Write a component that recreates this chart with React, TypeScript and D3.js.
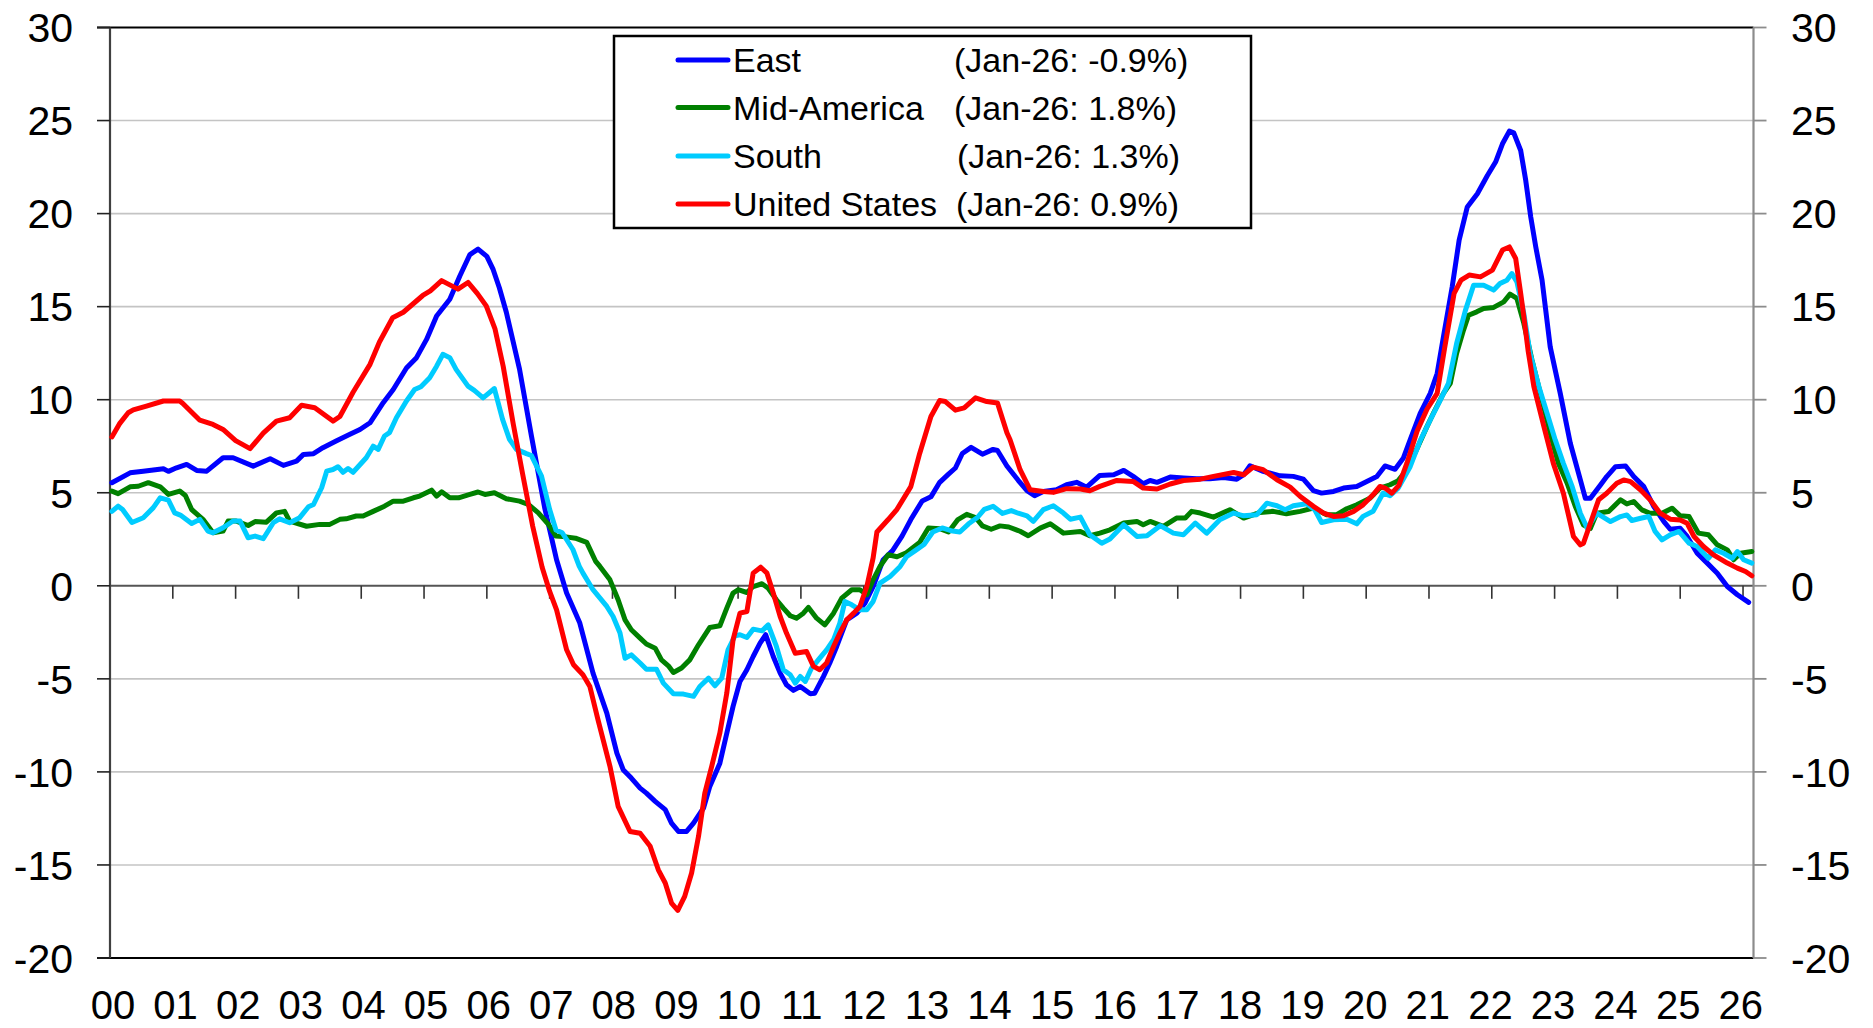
import React from 'react';
import * as d3 from 'd3';

// [years since Jan-2000, % y/y]
const east: [number, number][] = [
  [0.03,5.54],[0.32,6.07],[0.53,6.16],[0.85,6.29],[0.93,6.15],[1.06,6.34],[1.22,6.52],[1.38,6.2],[1.54,6.16],[1.8,6.88],[1.96,6.88],[2.28,6.43],[2.55,6.83],[2.76,6.47],[2.97,6.7],[3.08,7.06],[3.24,7.1],[3.39,7.42],[3.6,7.78],[3.82,8.14],[3.98,8.4],[4.14,8.76],[4.35,9.84],[4.51,10.55],[4.72,11.7],[4.88,12.26],[5.04,13.24],[5.2,14.5],[5.41,15.4],[5.57,16.65],[5.73,17.8],[5.86,18.09],[6.0,17.7],[6.1,17.0],[6.2,16.0],[6.31,14.7],[6.52,11.64],[6.71,8.05],[6.92,4.2],[7.11,1.4],[7.27,-0.39],[7.48,-2.0],[7.69,-4.69],[7.91,-6.84],[8.07,-8.99],[8.17,-9.88],[8.3,-10.33],[8.44,-10.87],[8.54,-11.14],[8.68,-11.58],[8.84,-12.03],[8.94,-12.75],[9.05,-13.2],[9.18,-13.2],[9.29,-12.75],[9.45,-11.94],[9.55,-10.78],[9.71,-9.53],[9.82,-7.92],[9.92,-6.48],[10.03,-5.14],[10.14,-4.51],[10.24,-3.8],[10.35,-3.08],[10.44,-2.63],[10.56,-3.8],[10.67,-4.69],[10.77,-5.32],[10.88,-5.62],[10.99,-5.41],[11.15,-5.8],[11.22,-5.77],[11.36,-4.87],[11.46,-4.15],[11.57,-3.26],[11.73,-1.83],[11.89,-1.47],[12.02,-0.93],[12.15,-0.04],[12.31,1.4],[12.46,1.89],[12.61,2.67],[12.75,3.56],[12.93,4.56],[13.07,4.78],[13.21,5.56],[13.35,6.0],[13.46,6.33],[13.57,7.11],[13.71,7.44],[13.89,7.07],[14.06,7.33],[14.13,7.27],[14.28,6.44],[14.46,5.67],[14.6,5.11],[14.72,4.84],[14.86,5.07],[15.07,5.16],[15.23,5.43],[15.39,5.56],[15.55,5.3],[15.76,5.93],[15.98,5.97],[16.14,6.2],[16.29,5.88],[16.45,5.48],[16.56,5.66],[16.67,5.56],[16.88,5.84],[17.09,5.79],[17.3,5.75],[17.51,5.75],[17.73,5.82],[17.94,5.73],[18.05,5.97],[18.15,6.45],[18.36,6.15],[18.63,5.91],[18.84,5.88],[19.0,5.73],[19.16,5.11],[19.29,4.98],[19.48,5.07],[19.64,5.25],[19.85,5.34],[20.01,5.61],[20.17,5.87],[20.3,6.44],[20.46,6.26],[20.59,6.85],[20.7,7.84],[20.86,9.27],[21.02,10.34],[21.13,11.41],[21.24,13.57],[21.37,16.07],[21.48,18.57],[21.61,20.36],[21.77,21.07],[21.93,22.05],[22.06,22.77],[22.17,23.75],[22.28,24.43],[22.35,24.34],[22.46,23.39],[22.54,21.79],[22.62,19.82],[22.7,18.21],[22.8,16.43],[22.93,12.84],[23.09,10.34],[23.25,7.66],[23.41,5.69],[23.49,4.7],[23.57,4.7],[23.73,5.42],[23.83,5.87],[23.97,6.4],[24.13,6.44],[24.26,5.87],[24.42,5.33],[24.58,4.26],[24.74,3.45],[24.84,3.04],[25.0,3.09],[25.11,2.65],[25.27,1.75],[25.43,1.22],[25.59,0.68],[25.75,-0.04],[25.91,-0.48],[26.09,-0.89],
];

const midAmerica: [number, number][] = [
  [0.03,5.09],[0.13,4.95],[0.32,5.32],[0.45,5.35],[0.61,5.54],[0.8,5.32],[0.93,4.91],[1.11,5.09],[1.2,4.85],[1.3,4.1],[1.48,3.57],[1.64,2.85],[1.8,2.94],[1.88,3.48],[2.01,3.48],[2.2,3.24],[2.31,3.45],[2.49,3.42],[2.65,3.92],[2.78,4.0],[2.86,3.48],[3.13,3.2],[3.34,3.3],[3.5,3.3],[3.66,3.57],[3.76,3.6],[3.92,3.75],[4.03,3.75],[4.19,4.0],[4.37,4.28],[4.51,4.55],[4.67,4.55],[4.83,4.73],[4.93,4.82],[5.12,5.14],[5.2,4.82],[5.28,5.05],[5.41,4.73],[5.55,4.73],[5.73,4.91],[5.86,5.04],[5.97,4.91],[6.12,5.0],[6.31,4.68],[6.52,4.55],[6.66,4.37],[6.82,3.92],[6.98,3.3],[7.1,2.67],[7.26,2.63],[7.41,2.56],[7.59,2.33],[7.73,1.33],[7.8,1.04],[7.96,0.32],[8.09,-0.75],[8.2,-1.83],[8.3,-2.36],[8.44,-2.81],[8.54,-3.13],[8.68,-3.35],[8.78,-3.98],[8.89,-4.3],[8.97,-4.66],[9.1,-4.42],[9.23,-3.98],[9.37,-3.17],[9.55,-2.24],[9.71,-2.15],[9.82,-1.2],[9.92,-0.39],[10.0,-0.21],[10.14,-0.36],[10.24,-0.04],[10.38,0.11],[10.48,-0.13],[10.61,-0.75],[10.72,-1.2],[10.83,-1.61],[10.93,-1.74],[11.04,-1.47],[11.12,-1.16],[11.25,-1.74],[11.38,-2.1],[11.52,-1.47],[11.65,-0.66],[11.81,-0.21],[11.94,-0.21],[12.05,-0.48],[12.15,0.32],[12.26,1.04],[12.39,1.67],[12.53,1.56],[12.68,1.78],[12.89,2.33],[13.03,3.11],[13.21,3.07],[13.35,2.89],[13.5,3.56],[13.64,3.84],[13.78,3.67],[13.89,3.22],[14.03,3.04],[14.17,3.22],[14.31,3.16],[14.49,2.93],[14.62,2.69],[14.81,3.1],[14.97,3.33],[15.18,2.83],[15.45,2.92],[15.6,2.69],[15.76,2.83],[15.92,3.01],[16.14,3.37],[16.35,3.46],[16.45,3.28],[16.56,3.46],[16.77,3.19],[16.98,3.64],[17.12,3.64],[17.22,4.0],[17.36,3.91],[17.57,3.69],[17.83,4.09],[18.05,3.64],[18.31,3.94],[18.52,4.0],[18.73,3.87],[18.95,4.0],[19.16,4.18],[19.37,3.82],[19.53,3.82],[19.69,4.14],[19.85,4.35],[20.06,4.7],[20.22,5.25],[20.38,5.43],[20.51,5.65],[20.64,6.2],[20.8,7.3],[20.96,8.5],[21.07,9.27],[21.23,10.34],[21.34,10.88],[21.44,12.49],[21.55,13.74],[21.63,14.54],[21.76,14.72],[21.87,14.9],[22.03,14.96],[22.19,15.26],[22.29,15.67],[22.4,15.44],[22.51,14.1],[22.64,12.13],[22.8,9.98],[22.93,8.19],[23.06,6.58],[23.2,5.51],[23.33,4.26],[23.46,3.27],[23.57,3.09],[23.67,3.9],[23.86,3.99],[24.05,4.62],[24.15,4.4],[24.26,4.53],[24.39,4.08],[24.52,3.9],[24.71,3.9],[24.87,4.17],[25.0,3.76],[25.14,3.72],[25.29,2.83],[25.45,2.74],[25.59,2.2],[25.75,1.93],[25.85,1.4],[25.96,1.75],[26.14,1.84],
];

const south: [number, number][] = [
  [0.03,4.0],[0.13,4.28],[0.2,4.1],[0.35,3.4],[0.53,3.66],[0.69,4.2],[0.8,4.73],[0.93,4.6],[1.03,3.92],[1.12,3.8],[1.3,3.35],[1.43,3.57],[1.56,2.94],[1.64,2.85],[1.8,3.12],[1.96,3.48],[2.07,3.48],[2.2,2.58],[2.31,2.67],[2.44,2.53],[2.6,3.39],[2.7,3.6],[2.86,3.39],[3.02,3.66],[3.16,4.25],[3.24,4.37],[3.37,5.27],[3.45,6.16],[3.55,6.25],[3.63,6.4],[3.71,6.1],[3.79,6.3],[3.87,6.1],[4.08,6.88],[4.19,7.5],[4.27,7.33],[4.37,8.05],[4.45,8.23],[4.56,9.03],[4.72,9.93],[4.85,10.55],[4.95,10.7],[5.09,11.18],[5.2,11.8],[5.3,12.44],[5.41,12.26],[5.51,11.63],[5.7,10.73],[5.8,10.5],[5.94,10.1],[6.12,10.6],[6.25,8.94],[6.36,7.87],[6.47,7.33],[6.63,7.1],[6.71,7.0],[6.87,5.9],[7.0,4.1],[7.1,3.0],[7.2,2.85],[7.37,1.95],[7.47,1.06],[7.53,0.68],[7.69,-0.21],[7.91,-1.11],[8.01,-1.65],[8.12,-2.54],[8.2,-3.89],[8.3,-3.71],[8.44,-4.15],[8.54,-4.48],[8.7,-4.48],[8.81,-5.23],[8.97,-5.8],[9.13,-5.82],[9.29,-5.94],[9.39,-5.41],[9.53,-4.96],[9.63,-5.37],[9.74,-4.96],[9.84,-3.44],[9.95,-2.69],[10.03,-2.63],[10.14,-2.78],[10.24,-2.33],[10.38,-2.42],[10.48,-2.1],[10.61,-3.26],[10.72,-4.51],[10.83,-4.78],[10.91,-5.23],[10.99,-4.87],[11.07,-5.14],[11.17,-4.42],[11.3,-3.89],[11.41,-3.44],[11.52,-2.9],[11.62,-2.0],[11.7,-0.84],[11.81,-1.02],[11.94,-1.29],[12.05,-1.29],[12.15,-0.84],[12.26,0.14],[12.42,0.5],[12.58,1.04],[12.68,1.56],[12.82,1.89],[12.96,2.22],[13.1,2.89],[13.25,3.11],[13.39,2.96],[13.53,2.89],[13.67,3.33],[13.81,3.67],[13.92,4.11],[14.06,4.27],[14.21,3.89],[14.35,4.04],[14.46,3.9],[14.6,3.76],[14.7,3.46],[14.86,4.09],[15.02,4.3],[15.18,3.91],[15.29,3.58],[15.45,3.69],[15.6,2.74],[15.79,2.29],[15.92,2.51],[16.14,3.28],[16.35,2.65],[16.51,2.69],[16.72,3.23],[16.93,2.83],[17.09,2.74],[17.28,3.37],[17.46,2.83],[17.67,3.55],[17.89,3.91],[18.05,3.76],[18.26,3.82],[18.42,4.44],[18.58,4.3],[18.71,4.09],[18.84,4.3],[19.05,4.41],[19.18,4.09],[19.29,3.4],[19.48,3.55],[19.69,3.58],[19.85,3.33],[19.95,3.73],[20.11,4.0],[20.27,4.98],[20.38,4.84],[20.51,5.25],[20.7,6.4],[20.86,7.8],[21.02,8.91],[21.18,9.98],[21.31,10.88],[21.44,13.02],[21.58,14.8],[21.71,16.15],[21.87,16.15],[22.03,15.89],[22.13,16.24],[22.24,16.42],[22.32,16.78],[22.4,16.33],[22.51,14.63],[22.61,12.49],[22.75,10.7],[22.88,9.27],[23.01,7.84],[23.14,6.58],[23.28,5.33],[23.41,3.9],[23.52,3.09],[23.67,3.9],[23.89,3.45],[24.05,3.72],[24.15,3.81],[24.23,3.51],[24.37,3.63],[24.5,3.72],[24.6,2.92],[24.71,2.47],[24.84,2.74],[24.98,2.92],[25.14,2.29],[25.27,2.11],[25.45,1.48],[25.56,1.93],[25.69,1.75],[25.83,1.48],[25.91,1.84],[26.01,1.4],[26.14,1.22],
];

const unitedStates: [number, number][] = [
  [0.03,8.0],[0.15,8.7],[0.29,9.3],[0.37,9.45],[0.58,9.66],[0.85,9.93],[1.11,9.93],[1.16,9.8],[1.43,8.9],[1.64,8.67],[1.8,8.4],[2.0,7.8],[2.23,7.37],[2.44,8.2],[2.65,8.85],[2.86,9.03],[3.05,9.7],[3.26,9.57],[3.55,8.85],[3.66,9.1],[3.87,10.4],[4.14,11.9],[4.29,13.1],[4.5,14.4],[4.67,14.7],[4.98,15.6],[5.1,15.85],[5.28,16.4],[5.54,15.94],[5.7,16.3],[5.85,15.7],[5.99,15.04],[6.13,13.8],[6.26,11.8],[6.42,8.7],[6.57,6.0],[6.73,3.2],[6.88,1.0],[7.0,-0.3],[7.11,-1.29],[7.27,-3.44],[7.38,-4.24],[7.53,-4.78],[7.64,-5.41],[7.77,-7.2],[7.96,-9.7],[8.09,-11.85],[8.28,-13.2],[8.44,-13.3],[8.6,-14.0],[8.73,-15.26],[8.84,-15.97],[8.94,-17.05],[9.04,-17.44],[9.15,-16.69],[9.26,-15.43],[9.37,-13.46],[9.47,-11.14],[9.58,-9.7],[9.71,-7.9],[9.82,-5.77],[9.92,-2.9],[10.03,-1.47],[10.14,-1.38],[10.24,0.68],[10.36,1.0],[10.46,0.68],[10.56,-0.39],[10.67,-1.65],[10.77,-2.54],[10.91,-3.62],[11.09,-3.53],[11.2,-4.33],[11.3,-4.51],[11.41,-4.15],[11.52,-3.26],[11.62,-2.54],[11.73,-1.83],[11.84,-1.47],[11.94,-1.11],[12.05,-0.04],[12.15,1.5],[12.21,2.89],[12.39,3.56],[12.53,4.11],[12.75,5.33],[12.89,7.1],[13.07,9.1],[13.21,9.96],[13.3,9.9],[13.46,9.44],[13.6,9.56],[13.78,10.1],[13.96,9.9],[14.13,9.82],[14.28,8.22],[14.33,7.85],[14.49,6.24],[14.65,5.16],[14.86,5.07],[15.02,5.02],[15.23,5.22],[15.45,5.2],[15.6,5.11],[15.76,5.34],[16.03,5.66],[16.29,5.61],[16.45,5.25],[16.67,5.2],[16.88,5.47],[17.09,5.66],[17.36,5.73],[17.57,5.88],[17.89,6.09],[18.05,5.97],[18.2,6.38],[18.36,6.24],[18.58,5.7],[18.79,5.3],[18.95,4.8],[19.16,4.27],[19.32,3.91],[19.48,3.73],[19.64,3.76],[19.8,4.0],[19.95,4.35],[20.11,4.89],[20.22,5.34],[20.3,5.25],[20.41,4.98],[20.52,5.4],[20.65,6.6],[20.81,8.3],[20.97,9.5],[21.13,10.34],[21.25,12.8],[21.4,15.71],[21.51,16.43],[21.64,16.7],[21.82,16.6],[22.01,16.96],[22.17,18.04],[22.28,18.21],[22.38,17.59],[22.46,15.71],[22.51,14.46],[22.58,12.6],[22.67,10.7],[22.83,8.55],[22.98,6.58],[23.14,4.97],[23.3,2.65],[23.41,2.2],[23.46,2.29],[23.57,3.36],[23.7,4.62],[23.83,4.97],[23.99,5.51],[24.1,5.69],[24.21,5.6],[24.37,5.15],[24.52,4.62],[24.68,3.9],[24.84,3.58],[25.0,3.54],[25.11,3.36],[25.22,2.65],[25.37,2.11],[25.53,1.66],[25.75,1.22],[25.91,0.95],[26.04,0.77],[26.14,0.54],
];

const seriesNames = ['East', 'Mid-America', 'South', 'United States'];
const seriesNotes = ['(Jan-26: -0.9%)', '(Jan-26: 1.8%)', '(Jan-26: 1.3%)', '(Jan-26: 0.9%)'];
const seriesColors = ['#0000ff', '#008000', '#00ccff', '#ff0000'];
const seriesData = [east, midAmerica, south, unitedStates];

const yTicks = [30, 25, 20, 15, 10, 5, 0, -5, -10, -15, -20];
const xTickLabels = ['00','01','02','03','04','05','06','07','08','09','10','11','12','13',
  '14','15','16','17','18','19','20','21','22','23','24','25','26'];

const W = 1873, H = 1028;
const FONT = '"Liberation Sans", Arial, Helvetica, sans-serif';

export default function App() {
  const left = 110, right = 1753.5, top = 27.5, bottom = 958;
  const x = d3.scaleLinear().domain([0, 314 / 12]).range([left, right]);
  const y = d3.scaleLinear().domain([-20, 30]).range([bottom, top]);
  const line = d3.line<[number, number]>().x(d => x(d[0])).y(d => y(d[1]));

  // legend layout
  const lg = { x0: 614, y0: 36, x1: 1251, y1: 228 };
  const rowY = [60, 107.5, 156, 204];
  const noteX = [954, 954, 957, 956];

  return (
    <div style={{ position: 'absolute', left: 0, top: 0, background: '#fff' }}>
      <svg width={W} height={H} style={{ display: 'block' }}>
        <rect width={W} height={H} fill="#fff" />

        {/* horizontal gridlines */}
        {yTicks.filter(v => v !== 0 && v !== 30 && v !== -20).map(v => (
          <line key={'g' + v} x1={left} x2={right} y1={y(v)} y2={y(v)} stroke="#c4c4c4" strokeWidth={1.6} />
        ))}
        <line x1={left - 13} x2={right} y1={y(30)} y2={y(30)} stroke="#000" strokeWidth={1.8} />
        <line x1={left - 13} x2={right} y1={y(-20)} y2={y(-20)} stroke="#000" strokeWidth={1.8} />

        {/* zero axis with year ticks */}
        <line x1={left} x2={right} y1={y(0)} y2={y(0)} stroke="#555" strokeWidth={2} />
        {xTickLabels.map((_, i) => (
          <line key={'xt' + i} x1={x(i)} x2={x(i)} y1={y(0)} y2={y(0) + 13} stroke="#333" strokeWidth={1.6} />
        ))}

        {/* left axis */}
        <line x1={left} x2={left} y1={top} y2={bottom} stroke="#404040" strokeWidth={2.2} />
        {yTicks.map(v => (
          <line key={'lt' + v} x1={left - 13} x2={left} y1={y(v)} y2={y(v)} stroke="#222" strokeWidth={1.6} />
        ))}
        {yTicks.map(v => (
          <text key={'ll' + v} x={73} y={y(v)} dy="0.36em" textAnchor="end" fontFamily={FONT} fontSize={41} fill="#000">{v}</text>
        ))}

        {/* right axis */}
        <line x1={right} x2={right} y1={top} y2={bottom} stroke="#8c8c8c" strokeWidth={2.2} />
        {yTicks.map(v => (
          <line key={'rt' + v} x1={right} x2={right + 13} y1={y(v)} y2={y(v)} stroke="#8c8c8c" strokeWidth={1.8} />
        ))}
        {yTicks.map(v => (
          <text key={'rl' + v} x={1791} y={y(v)} dy="0.36em" textAnchor="start" fontFamily={FONT} fontSize={41} fill="#000">{v}</text>
        ))}

        {/* x labels */}
        {xTickLabels.map((s, i) => (
          <text key={'xl' + i} x={x(i) + 3 - i * 0.2} y={1019} textAnchor="middle" fontFamily={FONT} fontSize={40} fill="#000">{s}</text>
        ))}

        {/* series */}
        {seriesData.map((d, i) => (
          <path key={'s' + i} d={line(d) || ''} fill="none" stroke={seriesColors[i]} strokeWidth={5}
            strokeLinejoin="round" strokeLinecap="round" />
        ))}

        {/* legend */}
        <rect x={lg.x0} y={lg.y0} width={lg.x1 - lg.x0} height={lg.y1 - lg.y0} fill="#fff" stroke="#000" strokeWidth={2.5} />
        {seriesNames.map((n, i) => (
          <g key={'lg' + i}>
            <line x1={678} x2={728} y1={rowY[i]} y2={rowY[i]} stroke={seriesColors[i]} strokeWidth={5} strokeLinecap="round" />
            <text x={733} y={rowY[i]} dy="0.36em" fontFamily={FONT} fontSize={34} fill="#000">{n}</text>
            <text x={noteX[i]} y={rowY[i]} dy="0.36em" fontFamily={FONT} fontSize={34} fill="#000">{seriesNotes[i]}</text>
          </g>
        ))}
      </svg>
    </div>
  );
}
